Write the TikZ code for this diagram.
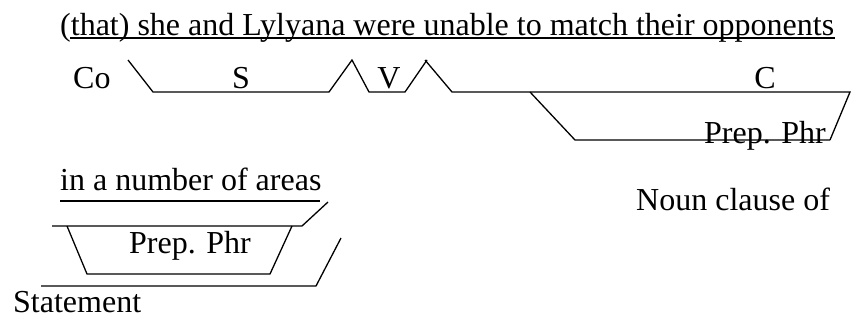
\documentclass[tikz,border=0pt]{standalone}
\usepackage{fontspec}
\setmainfont{Liberation Serif}
\begin{document}
\begin{tikzpicture}[x=1pt,y=-1pt,
  txt/.style={anchor=base west,inner sep=0pt,font=\fontsize{32}{38}\selectfont},
  ctxt/.style={anchor=base,inner sep=0pt,font=\fontsize{32}{38}\selectfont},
  ln/.style={line width=1.3pt,line join=miter}]
\useasboundingbox (0,0) rectangle (851,322);
% texts
\node[txt] (t1) at (60,35) {(that) she and Lylyana were unable to match their opponents};
\node[txt] (co) at (73,88) {Co};
\node[ctxt] (s) at (241,88) {S};
\node[ctxt] (v) at (389,88) {V};
\node[ctxt] (c) at (765,88) {C};
\node[ctxt] (pp1) at (765,143) {Prep. Phr};
\node[txt] (t2) at (60,190) {in a number of areas};
\node[ctxt] (pp2) at (190,253) {Prep. Phr};
\node[txt] (nc) at (636,210) {Noun clause of};
\node[txt] (st) at (13,312) {Statement};
% underlines
\draw[ln] (70,38) -- (835,38);
\draw[ln] (60,201) -- (320,201);
% S, V, C baselines
\draw[ln] (128,60) -- (153,92) -- (329,92) -- (352,60) -- (369,92) -- (405,92) -- (427,60);
\draw[ln] (425,60) -- (452,92) -- (850,92) -- (830,140);
\draw[ln] (530,92) -- (575,140) -- (830,140);
% lower part
\draw[ln] (328,202) -- (302,226) -- (52,226);
\draw[ln] (67,226) -- (87,274) -- (270,274) -- (292,226);
\draw[ln] (341,238) -- (316,286) -- (41,286);
\end{tikzpicture}
\end{document}
